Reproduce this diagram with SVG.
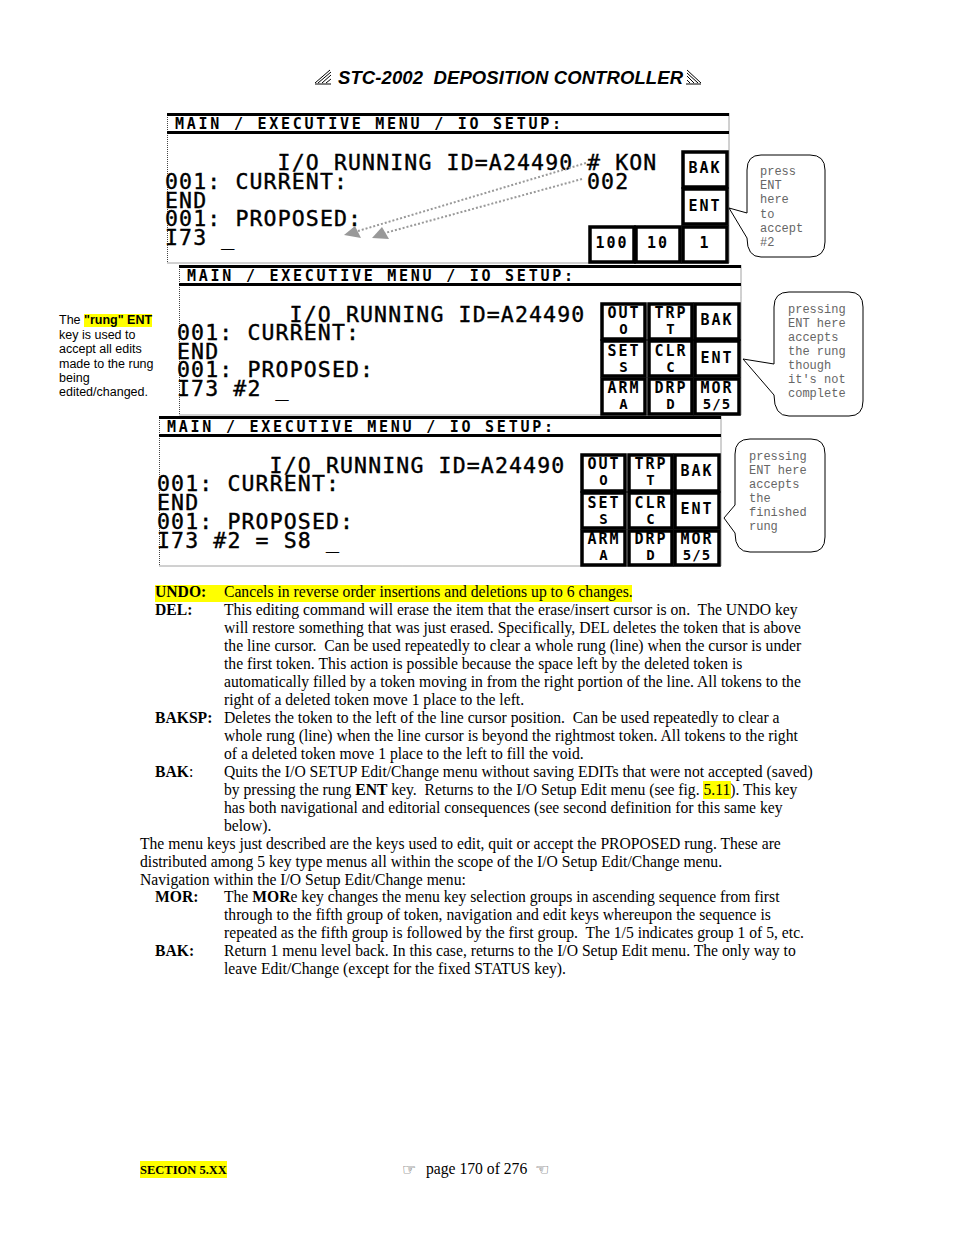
<svg xmlns="http://www.w3.org/2000/svg" width="954" height="1235" viewBox="0 0 954 1235">
<style>
.b{font-family:"Liberation Serif",serif;font-size:15.65px;fill:#000;white-space:pre}
.bd{font-weight:bold}
.s{font-family:"DejaVu Sans Mono",monospace;font-size:21.5px;letter-spacing:1.14px;fill:#000;stroke:#000;stroke-width:.4;white-space:pre}
.h{font-family:"DejaVu Sans Mono",monospace;font-size:15px;font-weight:bold;fill:#000}
.k{font-family:"DejaVu Sans Mono",monospace;font-size:15px;font-weight:bold;fill:#000;text-anchor:middle;letter-spacing:2px}
.k2{font-size:14px;letter-spacing:1px}
.c{font-family:"Liberation Mono",monospace;font-size:12px;fill:#666}
.n{font-family:"Liberation Sans",sans-serif;font-size:12.5px;fill:#000}
.bar{stroke:#000;stroke-width:3}
.dot{stroke:#444;stroke-width:1;stroke-dasharray:1 1;fill:none}
.cell{fill:#fff;stroke:#000;stroke-width:3.5}
.call{fill:#fff;stroke:#000;stroke-width:1}
.ar{stroke:#999;stroke-width:2;stroke-dasharray:2 2;fill:none}
.hd{fill:#999}
.y{fill:#ff0}
.ic{stroke:#000;stroke-width:1;fill:none}
</style>
<defs>
<g id="frame">
<path class="dot" d="M0.500 0V150H562V0"/>
<path class="bar" d="M0 1.500H562M0 19.500H562"/>
<text class="h" x="8" y="15.500" textLength="386" lengthAdjust="spacing">MAIN / EXECUTIVE MENU / IO SETUP:</text>
<text class="s" x="110.600" y="56.500">I/O RUNNING ID=A24490</text>
</g>
</defs>

<g id="title">
<path class="ic" d="M315 83L330 70M318 83L331 72M322 83L331 75M326 83L331 79M315 84H331"/>
<text x="338" y="84" font-family="Liberation Sans,sans-serif" font-size="18.500" font-weight="bold" font-style="italic" style="white-space:pre" textLength="345">STC-2002  DEPOSITION CONTROLLER</text>
<path class="ic" d="M701 83L687 70M698 83L687 73M694 83L687 76M690 83L687 80M686 84H701"/>
</g>

<g id="screen1" transform="translate(167 113)">
<use href="#frame"/>
<text class="s" x="-2" y="75.750">001: CURRENT:</text>
<text class="s" x="-2" y="94.500">END</text>
<text class="s" x="-2" y="113.250">001: PROPOSED:</text>
<text class="s" x="-2" y="132">I73 _</text>
<text class="s" x="420" y="56.500"># KON</text>
<text class="s" x="420" y="75.750">002</text>
<rect class="cell" x="516" y="39" width="44" height="35"/>
<rect class="cell" x="516" y="76" width="44" height="35"/>
<rect class="cell" x="423" y="114" width="44" height="35"/>
<rect class="cell" x="469" y="114" width="44" height="35"/>
<rect class="cell" x="516" y="114" width="44" height="35"/>
<text class="k" x="538" y="60">BAK</text>
<text class="k" x="538" y="98">ENT</text>
<text class="k" x="445" y="135">100</text>
<text class="k" x="491" y="135">10</text>
<text class="k" x="538" y="135">1</text>
</g>

<g id="screen2" transform="translate(179 265)">
<use href="#frame"/>
<text class="s" x="-2" y="74.500">001: CURRENT:</text>
<text class="s" x="-2" y="93.500">END</text>
<text class="s" x="-2" y="112">001: PROPOSED:</text>
<text class="s" x="-2" y="131">I73 #2 _</text>
<rect class="cell" x="423" y="39" width="43" height="35"/>
<rect class="cell" x="470" y="39" width="43" height="35"/>
<rect class="cell" x="516" y="39" width="44" height="35"/>
<rect class="cell" x="423" y="76" width="43" height="35"/>
<rect class="cell" x="470" y="76" width="43" height="35"/>
<rect class="cell" x="516" y="76" width="44" height="35"/>
<rect class="cell" x="423" y="114" width="43" height="35"/>
<rect class="cell" x="470" y="114" width="43" height="35"/>
<rect class="cell" x="516" y="114" width="44" height="35"/>
<text class="k" x="445" y="53">OUT</text><text class="k k2" x="445" y="69">O</text>
<text class="k" x="492" y="53">TRP</text><text class="k k2" x="492" y="69">T</text>
<text class="k" x="538" y="60">BAK</text>
<text class="k" x="445" y="91">SET</text><text class="k k2" x="445" y="107">S</text>
<text class="k" x="492" y="91">CLR</text><text class="k k2" x="492" y="107">C</text>
<text class="k" x="538" y="98">ENT</text>
<text class="k" x="445" y="128">ARM</text><text class="k k2" x="445" y="144">A</text>
<text class="k" x="492" y="128">DRP</text><text class="k k2" x="492" y="144">D</text>
<text class="k" x="538" y="128">MOR</text><text class="k k2" x="538" y="144">5/5</text>
</g>

<g id="screen3" transform="translate(159 416)">
<use href="#frame"/>
<text class="s" x="-2" y="75">001: CURRENT:</text>
<text class="s" x="-2" y="94">END</text>
<text class="s" x="-2" y="113">001: PROPOSED:</text>
<text class="s" x="-2" y="132">I73 #2 = S8 _</text>
<rect class="cell" x="423" y="39" width="43" height="36"/>
<rect class="cell" x="470" y="39" width="43" height="36"/>
<rect class="cell" x="516" y="39" width="44" height="36"/>
<rect class="cell" x="423" y="77" width="43" height="35"/>
<rect class="cell" x="470" y="77" width="43" height="35"/>
<rect class="cell" x="516" y="77" width="44" height="35"/>
<rect class="cell" x="423" y="115" width="43" height="34"/>
<rect class="cell" x="470" y="115" width="43" height="34"/>
<rect class="cell" x="516" y="115" width="44" height="34"/>
<text class="k" x="445" y="53">OUT</text><text class="k k2" x="445" y="69">O</text>
<text class="k" x="492" y="53">TRP</text><text class="k k2" x="492" y="69">T</text>
<text class="k" x="538" y="60">BAK</text>
<text class="k" x="445" y="92">SET</text><text class="k k2" x="445" y="108">S</text>
<text class="k" x="492" y="92">CLR</text><text class="k k2" x="492" y="108">C</text>
<text class="k" x="538" y="98">ENT</text>
<text class="k" x="445" y="128">ARM</text><text class="k k2" x="445" y="144">A</text>
<text class="k" x="492" y="128">DRP</text><text class="k k2" x="492" y="144">D</text>
<text class="k" x="538" y="128">MOR</text><text class="k k2" x="538" y="144">5/5</text>
</g>

<g id="connectors">
<path class="ar" d="M586 163L358 231"/>
<path class="ar" d="M582 179L385 233"/>
<polygon class="hd" points="344,235 355,226 361,238"/>
<polygon class="hd" points="372,238 382,227 389,239"/>
</g>

<g id="callout1">
<path class="call" d="M761 155H810Q825 155 825 170V242Q825 257 810 257H761Q747 257 747 238L729 208L747 213V170Q747 155 761 155Z"/>
<text class="c" x="760" y="175">press</text><text class="c" x="760" y="189">ENT</text><text class="c" x="760" y="203">here</text><text class="c" x="760" y="218">to</text><text class="c" x="760" y="232">accept</text><text class="c" x="760" y="246">#2</text>
</g>
<g id="callout2">
<path class="call" d="M789 292H849Q863 292 863 307V401Q863 416 849 416H789Q774 416 774 395L743 359L774 364V307Q774 292 789 292Z"/>
<text class="c" x="788" y="313">pressing</text><text class="c" x="788" y="327">ENT here</text><text class="c" x="788" y="341">accepts</text><text class="c" x="788" y="355">the rung</text><text class="c" x="788" y="369">though</text><text class="c" x="788" y="383">it's not</text><text class="c" x="788" y="397">complete</text>
</g>
<g id="callout3">
<path class="call" d="M750 439H811Q825 439 825 454V537Q825 552 811 552H750Q735 552 735 533L724 518L735 505V454Q735 439 750 439Z"/>
<text class="c" x="749" y="460">pressing</text><text class="c" x="749" y="474">ENT here</text><text class="c" x="749" y="488">accepts</text><text class="c" x="749" y="502">the</text><text class="c" x="749" y="516">finished</text><text class="c" x="749" y="530">rung</text>
</g>

<g id="note">
<rect class="y" x="84" y="314" width="68" height="13"/>
<text class="n" x="59" y="324">The <tspan font-weight="bold">"rung" ENT</tspan></text>
<text class="n" x="59" y="339">key is used to</text>
<text class="n" x="59" y="353">accept all edits</text>
<text class="n" x="59" y="368">made to the rung</text>
<text class="n" x="59" y="382">being</text>
<text class="n" x="59" y="396">edited/changed.</text>
</g>

<g id="body">
<rect class="y" x="155" y="585" width="477" height="17"/>
<rect class="y" x="703" y="781" width="28" height="18"/>
<text class="b bd" x="155" y="597">UNDO:</text><text class="b" x="224" y="597">Cancels in reverse order insertions and deletions up to 6 changes.</text>
<text class="b bd" x="155" y="615">DEL:</text><text class="b" x="224" y="615">This editing command will erase the item that the erase/insert cursor is on.  The UNDO key</text>
<text class="b" x="224" y="633">will restore something that was just erased. Specifically, DEL deletes the token that is above</text>
<text class="b" x="224" y="651">the line cursor.  Can be used repeatedly to clear a whole rung (line) when the cursor is under</text>
<text class="b" x="224" y="669">the first token. This action is possible because the space left by the deleted token is</text>
<text class="b" x="224" y="687">automatically filled by a token moving in from the right portion of the line. All tokens to the</text>
<text class="b" x="224" y="705">right of a deleted token move 1 place to the left.</text>
<text class="b bd" x="155" y="723">BAKSP:</text><text class="b" x="224" y="723">Deletes the token to the left of the line cursor position.  Can be used repeatedly to clear a</text>
<text class="b" x="224" y="741">whole rung (line) when the line cursor is beyond the rightmost token. All tokens to the right</text>
<text class="b" x="224" y="759">of a deleted token move 1 place to the left to fill the void.</text>
<text class="b" x="155" y="777"><tspan class="bd">BAK</tspan>:</text><text class="b" x="224" y="777">Quits the I/O SETUP Edit/Change menu without saving EDITs that were not accepted (saved)</text>
<text class="b" x="224" y="795">by pressing the rung <tspan class="bd">ENT</tspan> key.  Returns to the I/O Setup Edit menu (see fig. 5.11). This key</text>
<text class="b" x="224" y="813">has both navigational and editorial consequences (see second definition for this same key</text>
<text class="b" x="224" y="831">below).</text>
<text class="b" x="140" y="849">The menu keys just described are the keys used to edit, quit or accept the PROPOSED rung. These are</text>
<text class="b" x="140" y="867">distributed among 5 key type menus all within the scope of the I/O Setup Edit/Change menu.</text>
<text class="b" x="140" y="885">Navigation within the I/O Setup Edit/Change menu:</text>
<text class="b bd" x="155" y="902">MOR:</text><text class="b" x="224" y="902">The <tspan class="bd">MOR</tspan>e key changes the menu key selection groups in ascending sequence from first</text>
<text class="b" x="224" y="920">through to the fifth group of token, navigation and edit keys whereupon the sequence is</text>
<text class="b" x="224" y="938">repeated as the fifth group is followed by the first group.  The 1/5 indicates group 1 of 5, etc.</text>
<text class="b bd" x="155" y="956">BAK:</text><text class="b" x="224" y="956">Return 1 menu level back. In this case, returns to the I/O Setup Edit menu. The only way to</text>
<text class="b" x="224" y="974">leave Edit/Change (except for the fixed STATUS key).</text>
</g>

<g id="footer">
<rect class="y" x="140" y="1161" width="87" height="17"/>
<text x="140" y="1174" font-family="Liberation Serif,serif" font-size="12.500" font-weight="bold">SECTION 5.XX</text>
<text x="402" y="1175" font-family="DejaVu Sans,sans-serif" font-size="16" fill="#333">☞</text>
<text class="b" x="426" y="1174">page 170 of 276</text>
<text x="535" y="1175" font-family="DejaVu Sans,sans-serif" font-size="16" fill="#333">☜</text>
</g>
</svg>
